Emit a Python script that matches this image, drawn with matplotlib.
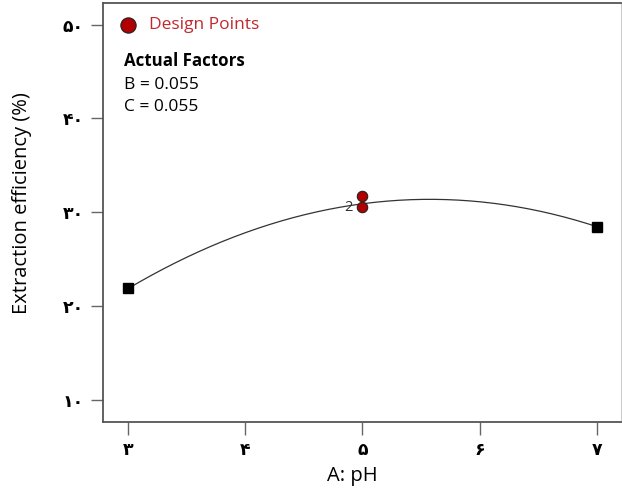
import numpy as np
import matplotlib.pyplot as plt

# design points
ph_pts = [3, 7]
eff_pts = [21.9, 28.4]
center_ph = [5, 5]
center_eff = [31.7, 30.6]

# model curve
curve_ph = [3, 3.5, 4, 4.5, 5, 5.5, 6, 6.5, 7]
curve_eff = [21.9, 25.2, 27.8, 29.7, 30.85, 31.4, 31.2, 30.2, 28.4]

xticks = [3, 4, 5, 6, 7]
xlabels = ["۳", "۴", "۵", "۶", "۷"]
yticks = [10, 20, 30, 40, 50]
ylabels = ["۱۰", "۲۰", "۳۰", "۴۰", "۵۰"]

plt.rcParams['font.family'] = ['Open Sans', 'DejaVu Sans']

fig = plt.figure(figsize=(6.22, 4.88), dpi=100)
ax = fig.add_axes([103/622, 66/488, 518/622, 419/488])

coef = np.polyfit(curve_ph, curve_eff, 2)
xs = np.linspace(3, 7, 200)
ax.plot(xs, np.polyval(coef, xs), color="#333333", lw=0.9)

ax.plot(ph_pts, eff_pts, "s", color="black", ms=7)
ax.plot(center_ph, center_eff, "o", mfc="#b00000", mec="#222222", mew=0.8, ms=7.5)
ax.text(4.92, center_eff[1] - 0.1, "2", fontsize=10.5, color="#333333",
        ha="right", va="center")

ax.set_xlim(2.787, 7.205)
ax.set_ylim(7.66, 52.3)
ax.set_xticks(xticks)
ax.set_xticklabels(xlabels, family=['DejaVu Sans'], fontweight="bold", fontsize=12.5)
ax.set_yticks(yticks)
ax.set_yticklabels(ylabels, family=['DejaVu Sans'], fontweight="bold", fontsize=12.5)
ax.tick_params(direction="out", length=9, width=1, color="#666666", pad=5)

for side in ["left", "bottom", "top"]:
    ax.spines[side].set_color("#555555")
    ax.spines[side].set_linewidth(1.3)
ax.spines["right"].set_color("#cccccc")

ax.set_xlabel("A: pH", fontsize=14.5)
ax.xaxis.set_label_coords(0.482, -0.105)
ax.set_ylabel("Extraction efficiency (%)", fontsize=14.5)
ax.yaxis.set_label_coords(-0.138, 0.523)

ax.plot([3.0], [50], "o", mfc="#b00000", mec="#222222", mew=0.8, ms=11, clip_on=False)
ax.text(3.18, 50, "Design Points", color="#c0282d", fontsize=12.5, va="center")
ax.text(2.97, 46.1, "Actual Factors", fontsize=12.2, fontweight="bold", va="center")
ax.text(2.97, 43.6, "B = 0.055", fontsize=12.5, va="center")
ax.text(2.97, 41.2, "C = 0.055", fontsize=12.5, va="center")

fig.savefig("out.png", dpi=100)
